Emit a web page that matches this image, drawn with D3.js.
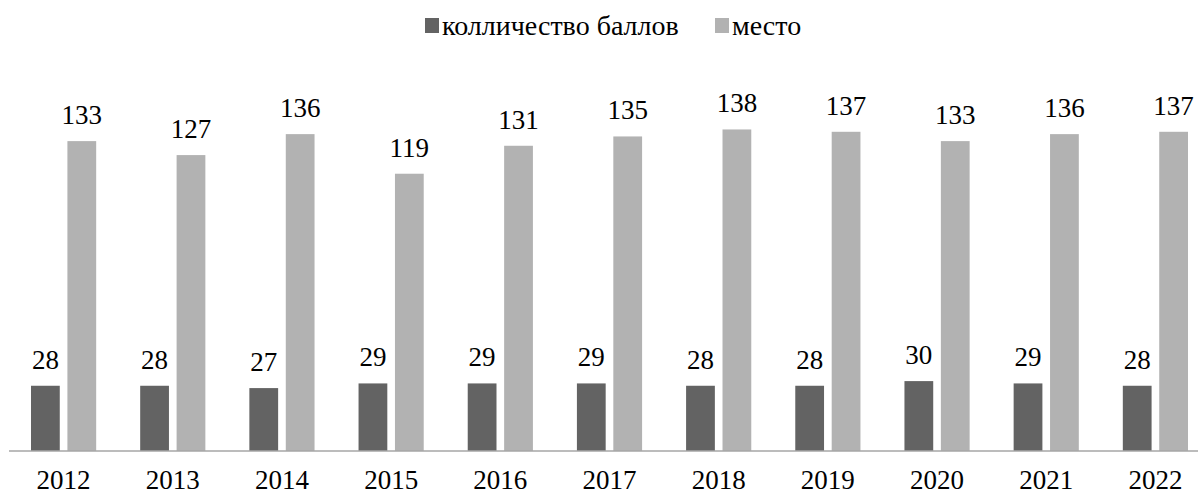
<!DOCTYPE html>
<html>
<head>
<meta charset="utf-8">
<script src="https://cdn.jsdelivr.net/npm/d3@7"></script>
<style>
  body { margin: 0; background: #fff; }
  svg text { font-family: 'Liberation Serif', 'Times New Roman', serif; }
</style>
</head>
<body>
<div id="chart"></div>
<script>
// chart data
const years = ["2012", "2013", "2014", "2015", "2016", "2017", "2018", "2019", "2020", "2021", "2022"];
const scores = [28, 28, 27, 29, 29, 29, 28, 28, 30, 29, 28];
const places = [133, 127, 136, 119, 131, 135, 138, 137, 133, 136, 137];
const seriesNames = ["колличество баллов", "место"];
const seriesColors = ["#636363", "#b2b2b2"];

const width = 1198, height = 495;
const baseY = 451;
const serif = "'Liberation Serif', 'Times New Roman', serif";

const svg = d3.select("#chart").append("svg")
    .attr("width", width)
    .attr("height", height);

// category scale (last band runs off the right edge like the source)
const x = d3.scaleBand().domain(years).range([9, 1210]).paddingInner(0).paddingOuter(0);
const sub = d3.scaleBand().domain([0, 1]).range([22, x.bandwidth() - 22]).paddingInner(0.21);
const y = d3.scaleLinear().domain([0, 138]).range([baseY, baseY - 138 * 2.33]);

const rows = years.map((yr, i) => ({year: yr, vals: [scores[i], places[i]]}));

const groups = svg.append("g").selectAll("g")
    .data(rows)
    .enter().append("g")
    .attr("transform", d => "translate(" + x(d.year) + ",0)");

groups.selectAll("rect")
    .data(d => d.vals.map((v, k) => ({k: k, v: v})))
    .enter().append("rect")
    .attr("x", d => sub(d.k))
    .attr("width", sub.bandwidth())
    .attr("y", d => y(d.v))
    .attr("height", d => baseY - y(d.v))
    .attr("fill", d => seriesColors[d.k]);

// value labels above bars
groups.selectAll("text")
    .data(d => d.vals.map((v, k) => ({k: k, v: v})))
    .enter().append("text")
    .attr("x", d => sub(d.k) + sub.bandwidth() / 2)
    .attr("y", d => y(d.v) - 17)
    .attr("text-anchor", "middle")
    .style("font-family", serif)
    .style("font-size", "27px")
    .attr("fill", "#000")
    .text(d => d.v);

// x axis
const axis = svg.append("g")
    .attr("transform", "translate(0," + baseY + ")")
    .call(d3.axisBottom(x).tickSize(0).tickPadding(19));
axis.select(".domain").attr("stroke", "#a6a6a6").attr("stroke-width", 1.5)
    .attr("d", "M9,0H" + width);
axis.selectAll("text")
    .style("font-family", serif)
    .style("font-size", "27px")
    .attr("fill", "#000")
    .attr("dy", "0.71em");

// legend
const legend = svg.append("g");
const legX = [425, 715];
seriesNames.forEach((name, i) => {
    legend.append("rect")
        .attr("x", legX[i]).attr("y", 18)
        .attr("width", 14).attr("height", 15)
        .attr("fill", seriesColors[i]);
    legend.append("text")
        .attr("x", legX[i] + 17).attr("y", 35)
        .style("font-family", serif)
        .style("font-size", "28px")
        .attr("fill", "#000")
        .text(name);
});
</script>
</body>
</html>
